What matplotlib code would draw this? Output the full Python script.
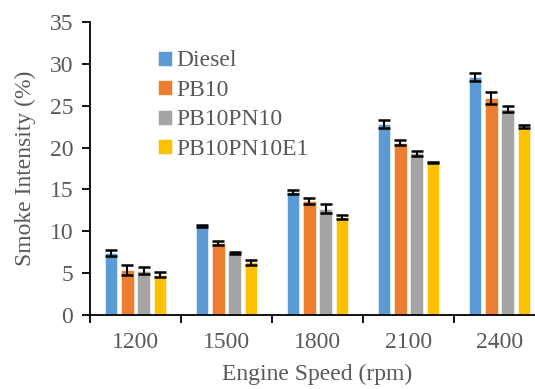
import numpy as np
import matplotlib.pyplot as plt

speeds = ["1200", "1500", "1800", "2100", "2400"]
fuels = ["Diesel", "PB10", "PB10PN10", "PB10PN10E1"]

diesel = [7.4, 10.6, 14.7, 22.8, 28.4]
pb10 = [5.4, 8.6, 13.6, 20.6, 25.9]
pb10pn10 = [5.3, 7.4, 12.7, 19.3, 24.6]
pb10pn10e1 = [4.8, 6.3, 11.7, 18.2, 22.5]

diesel_err = [0.4, 0.1, 0.2, 0.5, 0.5]
pb10_err = [0.6, 0.2, 0.4, 0.3, 0.7]
pb10pn10_err = [0.4, 0.1, 0.5, 0.3, 0.4]
pb10pn10e1_err = [0.3, 0.3, 0.2, 0.1, 0.2]

colors = ["#5B9BD5", "#ED7D31", "#A5A5A5", "#FFC000"]
text_color = "#595959"
fs = 17

plt.rcParams['font.family'] = ['Liberation Serif', 'DejaVu Serif']

fig = plt.figure(figsize=(5.35, 3.89), dpi=100)
ax = fig.add_axes([90 / 535, 1 - 315 / 389, 455 / 535, 293 / 389])

x = np.arange(len(speeds))
series = [diesel, pb10, pb10pn10, pb10pn10e1]
errors = [diesel_err, pb10_err, pb10pn10_err, pb10pn10e1_err]
step = 0.18
for i, (vals, errs) in enumerate(zip(series, errors)):
    ax.bar(x + (i - 1.5) * step, vals, width=0.14, color=colors[i],
           label=fuels[i], edgecolor="white", linewidth=0.4, zorder=2)
    ax.errorbar(x + (i - 1.5) * step, vals, yerr=errs, fmt="none",
                ecolor="black", elinewidth=1.5, capsize=4.2, capthick=1.8, zorder=3)

ax.set_xlim(-0.5, len(speeds) - 0.5)
ax.set_ylim(0, 35)
ax.set_yticks(range(0, 36, 5))
ax.set_xticks(x)
ax.set_xticklabels(speeds)
ax.set_xticks(np.arange(-0.5, len(speeds), 1), minor=True)
ax.tick_params(axis="x", which="major", length=0, pad=12, labelsize=fs, labelcolor=text_color)
ax.tick_params(axis="x", which="minor", length=6, width=1.3, direction="out")
ax.tick_params(axis="y", length=6, width=1.3, direction="out", labelsize=fs,
               labelcolor=text_color, pad=6)

for side in ["top", "right"]:
    ax.spines[side].set_visible(False)
for side in ["left", "bottom"]:
    ax.spines[side].set_linewidth(1.3)

ax.set_xlabel("Engine Speed (rpm)", fontsize=fs, color=text_color, labelpad=8)
ax.set_ylabel("Smoke Intensity (%)", fontsize=fs, color=text_color, labelpad=10)

leg = ax.legend(loc="upper left", bbox_to_anchor=(0.128, 0.935), frameon=False,
                fontsize=fs, handlelength=0.6, handleheight=0.6,
                handletextpad=0.2, labelspacing=0.36, borderaxespad=0)
for t in leg.get_texts():
    t.set_color(text_color)

fig.savefig("out.png", dpi=100)
